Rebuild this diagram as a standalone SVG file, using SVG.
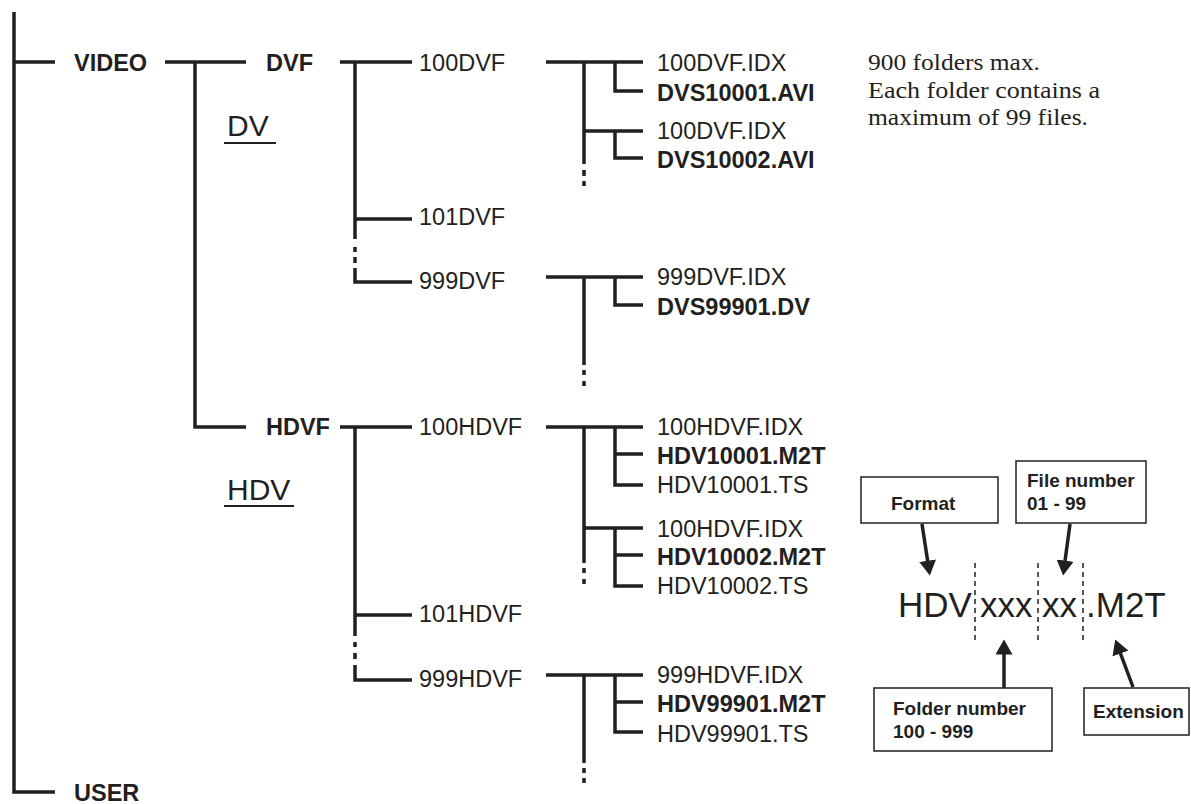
<svg xmlns="http://www.w3.org/2000/svg" width="1191" height="804" viewBox="0 0 1191 804">
<style>
.ln{stroke:#231f20;stroke-width:3.5;fill:none;stroke-linecap:butt;stroke-linejoin:miter}
.ul{stroke:#231f20;stroke-width:2;fill:none}
.t{font-family:"Liberation Sans",Arial,sans-serif;font-size:23.5px;fill:#231f20}
.b{font-weight:bold}
.big{font-size:30px}
.fmt{font-size:35px}
.note{font-family:"Liberation Serif","Times New Roman",serif;font-size:24px;fill:#231f20}
.box{fill:#fff;stroke:#231f20;stroke-width:1.5}
.lbl{font-family:"Liberation Sans",Arial,sans-serif;font-weight:bold;font-size:19px;fill:#231f20}
.dash{stroke:#231f20;stroke-width:1.5;stroke-dasharray:5 4;fill:none}
.arr{stroke:#231f20;stroke-width:3.5;fill:none;marker-end:url(#ah)}
</style>
<defs>
<marker id="ah" markerUnits="userSpaceOnUse" markerWidth="16" markerHeight="17" viewBox="0 0 16 17" refX="0.5" refY="8.5" orient="auto">
<path d="M0,0 L15,8.5 L0,17 z" fill="#231f20"/>
</marker>
</defs>
<rect width="1191" height="804" fill="#fff"/>
<g id="connectors">
<path class="ln" d="M14,12 V792 H55 M14,62 H55"/>
<path class="ln" d="M165,62 H246 M195,62 V427 H246"/>
<path class="ln" d="M340,62 H412 M355,62 V239 M355,219 H412 M355,247 V252 M355,257 V263 M355,268 V282 H412"/>
<path class="ln" d="M340,427 H412 M355,427 V636 M355,615 H412 M355,642 V647 M355,653 V659 M355,665 V680 H412"/>
<path class="ln" d="M546,62 H643 M584,62 V164 M584,170 V176 M584,181 V186 M615,62 V91 H643 M584,131 H643 M615,131 V158 H643"/>
<path class="ln" d="M546,277 H643 M584,277 V365 M584,370 V375 M584,381 V386 M615,277 V305 H643"/>
<path class="ln" d="M546,427 H643 M584,427 V563 M584,568 V573 M584,579 V584 M615,427 V485 H643 M615,454 H643 M584,528 H643 M615,528 V586 H643 M615,555 H643"/>
<path class="ln" d="M546,675 H643 M584,675 V763 M584,768 V773 M584,778 V783 M615,675 V732 H643 M615,702 H643"/>
<path class="arr" d="M922,524 L927.7,561.2"/>
<path class="arr" d="M1070,524 L1065,561.1"/>
<path class="arr" d="M1004,688 L1004,654"/>
<path class="arr" d="M1133,687 L1120.3,653"/>
<path class="dash" d="M975,563 V643 M1038,563 V643 M1083,563 V643"/>
</g>
<g id="video"><text class="t b" x="74" y="71">VIDEO</text></g>
<g id="user"><text class="t b" x="74" y="801">USER</text></g>
<g id="dvf"><text class="t b" x="266" y="71">DVF</text></g>
<g id="hdvf"><text class="t b" x="266" y="435">HDVF</text></g>
<g id="dv-label"><text class="t big" x="227" y="136">DV</text><path class="ul" d="M224,143 H276"/></g>
<g id="hdv-label"><text class="t big" x="227" y="500">HDV</text><path class="ul" d="M224,506 H294"/></g>
<g id="f100dvf"><text class="t" x="419" y="71">100DVF</text></g>
<g id="f101dvf"><text class="t" x="419" y="225">101DVF</text></g>
<g id="f999dvf"><text class="t" x="419" y="289">999DVF</text></g>
<g id="f100hdvf"><text class="t" x="419" y="435">100HDVF</text></g>
<g id="f101hdvf"><text class="t" x="419" y="622">101HDVF</text></g>
<g id="f999hdvf"><text class="t" x="419" y="687">999HDVF</text></g>
<g id="files100dvf">
<text class="t" x="657" y="71">100DVF.IDX</text>
<text class="t b" x="657" y="101">DVS10001.AVI</text>
<text class="t" x="657" y="139">100DVF.IDX</text>
<text class="t b" x="657" y="168">DVS10002.AVI</text>
</g>
<g id="files999dvf">
<text class="t" x="657" y="285">999DVF.IDX</text>
<text class="t b" x="657" y="315">DVS99901.DV</text>
</g>
<g id="files100hdvf">
<text class="t" x="657" y="435">100HDVF.IDX</text>
<text class="t b" x="657" y="464">HDV10001.M2T</text>
<text class="t" x="657" y="493">HDV10001.TS</text>
<text class="t" x="657" y="537">100HDVF.IDX</text>
<text class="t b" x="657" y="565">HDV10002.M2T</text>
<text class="t" x="657" y="594">HDV10002.TS</text>
</g>
<g id="files999hdvf">
<text class="t" x="657" y="683">999HDVF.IDX</text>
<text class="t b" x="657" y="712">HDV99901.M2T</text>
<text class="t" x="657" y="742">HDV99901.TS</text>
</g>
<g id="note">
<text class="note" x="868" y="70" textLength="172" lengthAdjust="spacingAndGlyphs">900 folders max.</text>
<text class="note" x="868" y="98" textLength="232" lengthAdjust="spacingAndGlyphs">Each folder contains a</text>
<text class="note" x="868" y="125" textLength="220" lengthAdjust="spacingAndGlyphs">maximum of 99 files.</text>
</g>
<g id="filename">
<text class="t fmt" x="898" y="617">HDV</text>
<text class="t fmt" x="980" y="617">xxx</text>
<text class="t fmt" x="1042" y="617">xx</text>
<text class="t fmt" x="1086" y="617">.M2T</text>
</g>
<g id="format-box"><rect class="box" x="861" y="477" width="137" height="46"/><text class="lbl" x="891" y="510">Format</text></g>
<g id="filenumber-box"><rect class="box" x="1016" y="461" width="130" height="62"/><text class="lbl" x="1027" y="487">File number</text><text class="lbl" x="1027" y="510">01 - 99</text></g>
<g id="foldernumber-box"><rect class="box" x="874" y="688" width="178" height="63"/><text class="lbl" x="893" y="715">Folder number</text><text class="lbl" x="893" y="738">100 - 999</text></g>
<g id="extension-box"><rect class="box" x="1084" y="688" width="105" height="47"/><text class="lbl" x="1093" y="718">Extension</text></g>
</svg>
